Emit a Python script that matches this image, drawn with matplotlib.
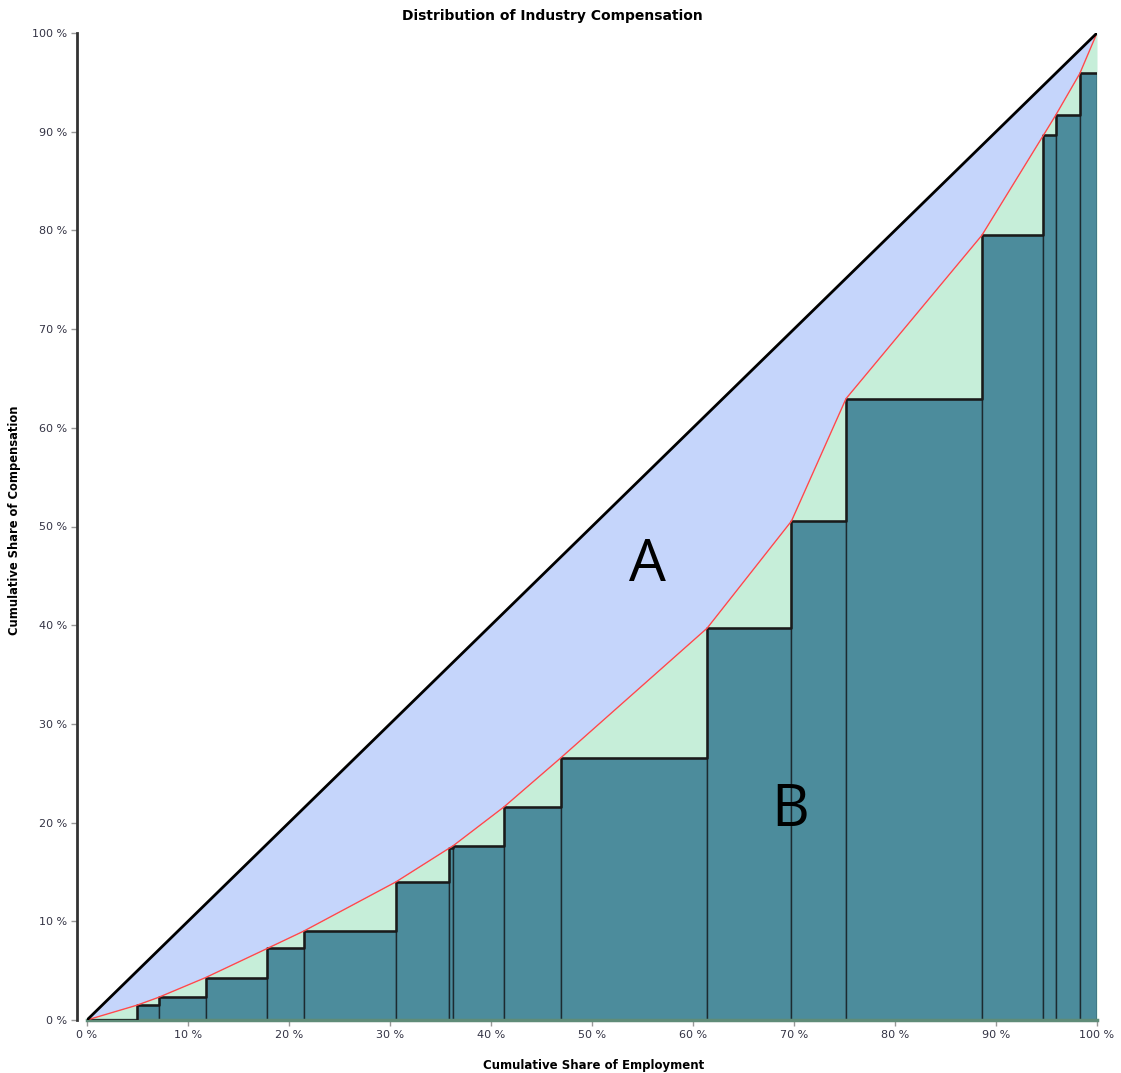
import matplotlib
matplotlib.use('Agg')
import matplotlib.pyplot as plt
import numpy as np

# cumulative shares (%)
cum_emp = [0, 4.95, 7.1, 11.75, 17.85, 21.45, 30.6, 35.85, 36.25, 41.3, 46.9,
           61.4, 69.75, 75.15, 88.6, 94.7, 95.9, 98.3, 100]
cum_comp = [0, 1.5, 2.3, 4.3, 7.25, 9.0, 14.0, 17.4, 17.65, 21.6, 26.55,
            39.7, 50.55, 62.95, 79.5, 89.65, 91.65, 95.9, 100]
ticks = [0, 10, 20, 30, 40, 50, 60, 70, 80, 90, 100]
tick_labels = ['%d %%' % t for t in ticks]

x = np.array(cum_emp)
y = np.array(cum_comp)

fig = plt.figure(figsize=(11.21, 10.73), dpi=100)
ax = fig.add_axes([87/1121, 1 - 1020/1073, 1010/1121, 987/1073])

# area A (equality line vs lorenz) and green area under lorenz
ax.fill_between(x, x, y, color='#c5d5fb', lw=0, zorder=1)
ax.fill_between(x, y, 0, color='#c6eed9', lw=0, zorder=1)

# bars: left at x[i], height = lorenz value at x[i]
ax.bar(x[:-1], y[:-1], width=np.diff(x), align='edge', color='#4c8c9c',
       edgecolor='#1c2a30', linewidth=1.0, zorder=2)
ax.step(x, np.append(y[:-1], y[-2]), where='post', color='#1a1a1a', lw=1.8, zorder=3)

ax.plot(x, y, color='#ff4a4a', lw=1.0, zorder=4)
ax.plot([0, 100], [0, 100], color='black', lw=2, zorder=5)

ax.text(55.5, 46.0, 'A', fontsize=42, family='Open Sans', fontweight='medium',
        ha='center', va='center', zorder=6)
ax.text(69.6, 21.2, 'B', fontsize=42, family='Open Sans', fontweight='medium',
        ha='center', va='center', zorder=6)

ax.set_xlim(0, 100)
ax.set_ylim(0, 100)
ax.set_xticks(ticks)
ax.set_xticklabels(tick_labels)
ax.set_yticks(ticks)
ax.set_yticklabels(tick_labels)
ax.tick_params(labelsize=8, colors='#999999', labelcolor='#333344', length=4, width=1)

for s in ['top', 'right']:
    ax.spines[s].set_visible(False)
ax.spines['left'].set_position(('outward', 7))
ax.spines['left'].set_color('#333333')
ax.spines['left'].set_linewidth(2)
ax.spines['bottom'].set_color('#5f8c78')
ax.spines['bottom'].set_linewidth(2.5)

fig.text(552/1121, 1 - 16/1073, 'Distribution of Industry Compensation',
         fontsize=10, fontweight='bold', ha='center', va='center')
fig.text(594/1121, 1 - 1065/1073, 'Cumulative Share of Employment',
         fontsize=8.5, fontweight='bold', ha='center', va='center')
fig.text(15/1121, 1 - 520/1073, 'Cumulative Share of Compensation',
         fontsize=8.3, fontweight='bold', ha='center', va='center', rotation=90)

fig.savefig('out.png', dpi=100)
